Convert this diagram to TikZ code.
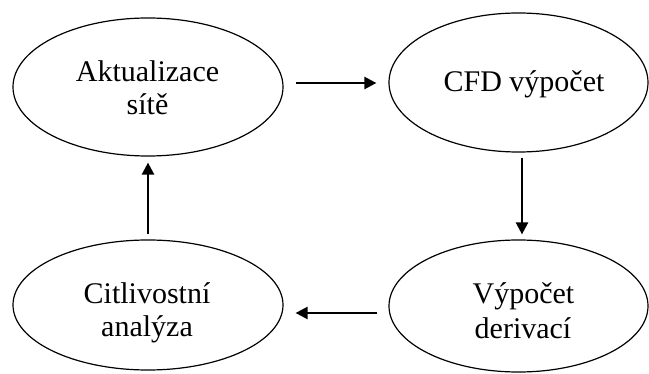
\documentclass[tikz,border=0pt]{standalone}
\usepackage{fontspec}
\setmainfont{Liberation Serif}
\usetikzlibrary{shapes.geometric,arrows.meta}
\begin{document}
\begin{tikzpicture}[x=1pt,y=-1pt,
  stage/.style={draw=black,line width=1.2pt,ellipse,inner sep=0pt},
  word/.style={anchor=base,inner sep=0pt,font=\fontsize{30}{34}\selectfont},
  flow/.style={draw=black,line width=2.4pt,-{Triangle[length=12pt,width=12pt]}}]
  \useasboundingbox (0,0) rectangle (649,374);
  % the four stages of the loop
  \node[stage,minimum width=270pt,minimum height=138pt] (e1) at (148,87) {};
  \node[stage,minimum width=259pt,minimum height=139pt] (e2) at (518.5,82.5) {};
  \node[stage,minimum width=259pt,minimum height=132pt] (e3) at (518.5,306) {};
  \node[stage,minimum width=270pt,minimum height=130pt] (e4) at (148,305) {};
  % stage labels
  \node[word] (t1a) at (147.5,82) {Aktualizace};
  \node[word] (t1b) at (147.5,115) {sítě};
  \node[word] (t2) at (524,92) {CFD výpočet};
  \node[word] (t3a) at (523.5,304) {Výpočet};
  \node[word] (t3b) at (523,339) {derivací};
  \node[word] (t4a) at (147,304) {Citlivostní};
  \node[word] (t4b) at (147,337) {analýza};
  % connectors between the stages
  \draw[flow,shorten <=12pt,shorten >=12pt] (e1.east|-0,83) -- (e2.west|-0,83);
  \draw[flow,shorten <=5pt,shorten >=5pt] (e2.south-|522,0) -- (e3.north-|522,0);
  \draw[flow,shorten <=11pt,shorten >=12pt] (e3.west|-0,313) -- (e4.east|-0,313);
  \draw[flow,shorten <=5pt,shorten >=6pt] (e4.north) -- (e1.south);
\end{tikzpicture}
\end{document}
